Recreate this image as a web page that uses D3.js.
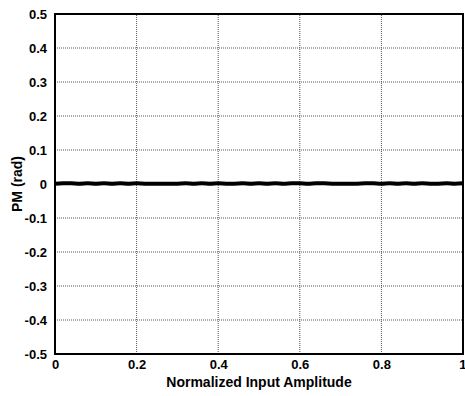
<!DOCTYPE html>
<html>
<head>
<meta charset="utf-8">
<script src="https://cdn.jsdelivr.net/npm/d3@7"></script>
<style>
body { margin: 0; background: #fff; }
text { font-family: "Liberation Sans", Arial, sans-serif; font-weight: bold; }
</style>
</head>
<body>
<div id="chart"></div>
<script>
var xTicks = [0, 0.2, 0.4, 0.6, 0.8, 1];
var yTicks = [-0.5, -0.4, -0.3, -0.2, -0.1, 0, 0.1, 0.2, 0.3, 0.4, 0.5];
var xTickLabels = ["0", "0.2", "0.4", "0.6", "0.8", "1"];
var yTickLabels = ["-0.5", "-0.4", "-0.3", "-0.2", "-0.1", "0", "0.1", "0.2", "0.3", "0.4", "0.5"];

// normalized amplitude vs phase modulation (rad)
var amplitude = [0, 0.02, 0.04, 0.06, 0.08, 0.10, 0.12, 0.14, 0.16, 0.18, 0.20, 0.22, 0.24, 0.26, 0.28, 0.30,
  0.32, 0.34, 0.36, 0.38, 0.40, 0.42, 0.44, 0.46, 0.48, 0.50, 0.52, 0.54, 0.56, 0.58, 0.60,
  0.62, 0.64, 0.66, 0.68, 0.70, 0.72, 0.74, 0.76, 0.78, 0.80, 0.82, 0.84, 0.86, 0.88, 0.90,
  0.92, 0.94, 0.96, 0.98, 1.00];
var pm = [0.001, 0.002, 0.002, 0.001, 0.002, 0.001, 0.002, 0.001, 0.002, 0.001, 0.002, 0.001, 0.001, 0.001, 0.001, 0.001,
  0.002, 0.001, 0.002, 0.001, 0.002, 0.001, 0.001, 0.002, 0.001, 0.002, 0.001, 0.002, 0.001, 0.002, 0.002,
  0.001, 0.002, 0.002, 0.001, 0.001, 0.001, 0.001, 0.002, 0.002, 0.001, 0.002, 0.001, 0.002, 0.001, 0.002,
  0.001, 0.001, 0.002, 0.001, 0.002];

var margin = {left: 55, right: 2, top: 14, bottom: 42};
var width = 465, height = 396;

var svg = d3.select("#chart")
	.append("svg")
	.attr("width", width)
	.attr("height", height);

var xScale = d3.scaleLinear()
	.domain([0, 1])
	.range([margin.left, width - margin.right]);

var yScale = d3.scaleLinear()
	.domain([-0.5, 0.5])
	.range([height - margin.bottom, margin.top]);

/* grid */
svg.append("g")
	.selectAll("line")
	.data(xTicks.slice(1, -1))
	.enter()
	.append("line")
	.attr("x1", function(d){ return xScale(d); })
	.attr("x2", function(d){ return xScale(d); })
	.attr("y1", yScale(-0.5))
	.attr("y2", yScale(0.5))
	.attr("stroke", "#555")
	.attr("stroke-width", 1)
	.attr("stroke-dasharray", "1,1");

svg.append("g")
	.selectAll("line")
	.data(yTicks.slice(1, -1))
	.enter()
	.append("line")
	.attr("y1", function(d){ return yScale(d); })
	.attr("y2", function(d){ return yScale(d); })
	.attr("x1", xScale(0))
	.attr("x2", xScale(1))
	.attr("stroke", "#555")
	.attr("stroke-width", 1)
	.attr("stroke-dasharray", "1,1");

/* axes */
var xAxis = d3.axisBottom(xScale)
	.tickValues(xTicks)
	.tickFormat(function(d, i){ return xTickLabels[i]; })
	.tickSize(0)
	.tickPadding(6);
var yAxis = d3.axisLeft(yScale)
	.tickValues(yTicks)
	.tickFormat(function(d, i){ return yTickLabels[i]; })
	.tickSize(0)
	.tickPadding(8);

var gx = svg.append("g")
	.attr("transform", "translate(0," + yScale(-0.5) + ")")
	.call(xAxis);
var gy = svg.append("g")
	.attr("transform", "translate(" + xScale(0) + ",0)")
	.call(yAxis);
[gx, gy].forEach(function(g){
	g.select(".domain").remove();
	g.selectAll("text")
		.attr("fill", "#000")
		.style("font-size", "13px")
		.style("font-family", "'Liberation Sans', Arial, sans-serif")
		.style("font-weight", "bold");
});
// keep the last x label inside the window
gx.selectAll(".tick:last-of-type text").attr("text-anchor", "end").attr("dx", "3px");

/* frame */
svg.append("rect")
	.attr("x", xScale(0))
	.attr("y", yScale(0.5))
	.attr("width", xScale(1) - xScale(0))
	.attr("height", yScale(-0.5) - yScale(0.5))
	.attr("fill", "none")
	.attr("stroke", "#000")
	.attr("stroke-width", 2);

/* data line */
var line = d3.line()
	.x(function(d, i){ return xScale(amplitude[i]); })
	.y(function(d){ return yScale(d); })
	.curve(d3.curveCatmullRom);

svg.append("path")
	.datum(pm)
	.attr("d", line)
	.attr("fill", "none")
	.attr("stroke", "#000")
	.attr("stroke-width", 4);

/* labels */
svg.append("text")
	.text("Normalized Input Amplitude")
	.attr("x", (xScale(0) + xScale(1)) / 2)
	.attr("y", 387)
	.attr("text-anchor", "middle")
	.style("font-size", "14px");

svg.append("text")
	.text("PM (rad)")
	.attr("transform", "translate(22," + yScale(0) + ") rotate(-90)")
	.attr("text-anchor", "middle")
	.style("font-size", "14px");
</script>
</body>
</html>
